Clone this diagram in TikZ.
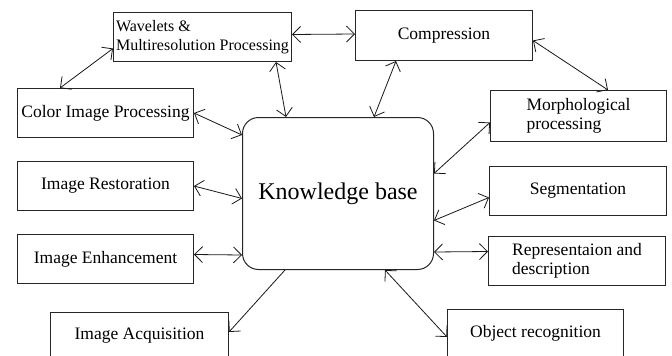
\documentclass[tikz,border=0pt]{standalone}
\usepackage{fontspec}
\setmainfont{Liberation Serif}
\usetikzlibrary{arrows.meta}
\begin{document}
\begin{tikzpicture}[x=1pt,y=-1pt,
  box/.style={draw=black!85, line width=1pt, inner sep=0pt, anchor=north west,
    font=\fontsize{17.5}{19}\selectfont},
  kbbox/.style={draw=black!85, line width=1pt, rounded corners=16pt, inner sep=0pt, anchor=north west,
    font=\fontsize{24}{28}\selectfont},
  link/.style={line width=0.8pt, black!90},
  >={Straight Barb[length=8pt,width=16pt]}]
\clip (0,0) rectangle (672,356);
\fill[white] (0,0) rectangle (672,356);
% nodes
\node[box, minimum width=178pt, minimum height=49pt, align=left,
  font=\fontsize{16}{19}\selectfont] (wav) at (113,12) {Wavelets \&\\Multiresolution Processing};
\node[box, minimum width=177pt, minimum height=50pt] (comp) at (355,10) {Compression};
\node[box, minimum width=176pt, minimum height=49pt] (color) at (17,88) {Color Image Processing};
\node[box, minimum width=176pt, minimum height=49pt] (rest) at (17,161) {Image Restoration};
\node[box, minimum width=176pt, minimum height=49pt] (enh) at (17,234) {Image Enhancement};
\node[box, minimum width=178pt, minimum height=46pt] (acq) at (50,312) {Image Acquisition};
\node[kbbox, minimum width=191pt, minimum height=152pt] (kb) at (242,117) {Knowledge base};
\node[box, minimum width=176pt, minimum height=51pt, align=left] (morph) at (490,90) {Morphological\\processing};
\node[box, minimum width=177pt, minimum height=49pt] (seg) at (489,166) {Segmentation};
\node[box, minimum width=177pt, minimum height=49pt, align=left] (rep) at (488,236) {Representaion and\\description};
\node[box, minimum width=176pt, minimum height=48pt] (obj) at (447,309) {Object recognition};
% connectors
\draw[link,<->] ([yshift=2.5pt]wav.east) -- ([yshift=1.5pt]comp.west);
\draw[link,<->] ([yshift=-11.5pt]wav.west) -- ([xshift=43pt]color.north west);
\draw[link,<->] ([xshift=-16pt]wav.south east) -- ([xshift=44pt]kb.north west);
\draw[link,<->] (color.east) -- ([yshift=-18pt]kb.north west);
\draw[link,<->] ([xshift=41pt]comp.south west) -- ([xshift=132pt]kb.north west);
\draw[link,<->] ([yshift=-5pt]comp.east) -- ([xshift=118pt]morph.north west);
\draw[link,<->] ([yshift=-6.5pt]morph.west) -- ([yshift=20pt]kb.east);
\draw[link,<->] (rest.east) -- ([yshift=-5pt]kb.west);
\draw[link,<->] ([yshift=4.5pt]enh.east) -- ([yshift=15pt]kb.south west);
\draw[link,<->] ([yshift=-6.5pt]seg.west) -- ([yshift=-27pt]kb.east);
\draw[link,<->] ([yshift=18pt]kb.south east) -- ([yshift=9.5pt]rep.west);
\draw[link,->] ([xshift=43pt]kb.south west) -- ([yshift=-20pt]acq.north east);
\draw[link,<->] ([xshift=143pt]kb.south west) -- ([yshift=-28pt]obj.north west);
\end{tikzpicture}
\end{document}
